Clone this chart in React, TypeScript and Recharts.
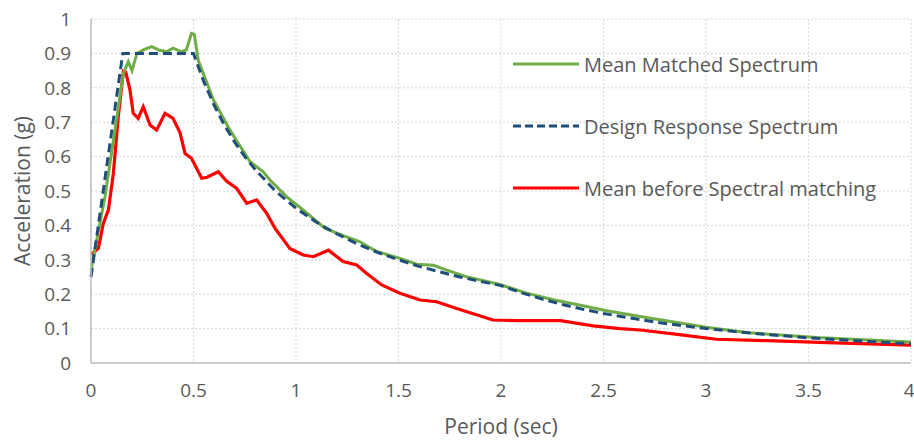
import React from "react";
import { LineChart, Line, XAxis, YAxis, CartesianGrid } from "recharts";

const matchedT = [0, 0.068, 0.117, 0.158, 0.182, 0.2, 0.224, 0.255, 0.296, 0.33, 0.37, 0.4, 0.44, 0.465, 0.49, 0.504, 0.523, 0.597, 0.678, 0.776, 0.84, 0.873, 0.955, 1.02, 1.084, 1.14, 1.23, 1.31, 1.394, 1.507, 1.589, 1.67, 1.735, 1.83, 1.995, 2.125, 2.255, 2.37, 2.515, 2.73, 3.0, 3.21, 3.54, 4.0];
const matchedA = [0.27, 0.483, 0.677, 0.842, 0.876, 0.85, 0.9, 0.91, 0.92, 0.91, 0.905, 0.915, 0.905, 0.91, 0.958, 0.955, 0.88, 0.765, 0.677, 0.585, 0.556, 0.532, 0.483, 0.452, 0.42, 0.392, 0.37, 0.353, 0.324, 0.304, 0.287, 0.284, 0.27, 0.251, 0.228, 0.203, 0.184, 0.17, 0.152, 0.13, 0.104, 0.088, 0.074, 0.061];

const designT = [0, 0.155, 0.5, 0.55, 0.6, 0.65, 0.7, 0.75, 0.8, 0.9, 1.0, 1.1, 1.2, 1.3, 1.4, 1.5, 1.6, 1.7, 1.8, 1.9, 2.0, 2.1, 2.2, 2.3, 2.4, 2.5, 2.75, 3.0, 3.25, 3.5, 3.75, 4.0];
const designA = [0.25, 0.9, 0.9, 0.818, 0.75, 0.692, 0.643, 0.6, 0.563, 0.5, 0.45, 0.409, 0.375, 0.346, 0.321, 0.3, 0.281, 0.265, 0.25, 0.237, 0.225, 0.204, 0.186, 0.17, 0.156, 0.144, 0.119, 0.1, 0.085, 0.073, 0.064, 0.056];

const beforeT = [0, 0.036, 0.06, 0.085, 0.109, 0.133, 0.158, 0.17, 0.19, 0.206, 0.23, 0.255, 0.288, 0.32, 0.361, 0.4, 0.434, 0.459, 0.49, 0.54, 0.566, 0.621, 0.662, 0.71, 0.76, 0.808, 0.857, 0.898, 0.97, 1.035, 1.085, 1.158, 1.23, 1.296, 1.345, 1.418, 1.507, 1.605, 1.686, 1.78, 1.88, 1.96, 2.076, 2.29, 2.45, 2.58, 2.68, 2.89, 3.05, 3.3, 3.59, 4.0];
const beforeA = [0.315, 0.333, 0.406, 0.445, 0.551, 0.716, 0.848, 0.845, 0.794, 0.726, 0.711, 0.745, 0.692, 0.677, 0.726, 0.711, 0.67, 0.609, 0.595, 0.537, 0.54, 0.556, 0.528, 0.508, 0.464, 0.474, 0.435, 0.391, 0.333, 0.314, 0.309, 0.328, 0.295, 0.285, 0.26, 0.227, 0.203, 0.183, 0.178, 0.159, 0.14, 0.125, 0.123, 0.123, 0.108, 0.1, 0.096, 0.081, 0.069, 0.065, 0.059, 0.052];

const xTicks = [0, 0.5, 1, 1.5, 2, 2.5, 3, 3.5, 4];
const yTicks = [0, 0.1, 0.2, 0.3, 0.4, 0.5, 0.6, 0.7, 0.8, 0.9, 1];

const seriesNames = ["Mean Matched Spectrum", "Design Response Spectrum", "Mean before Spectral matching"];

const toPoints = (t: number[], a: number[]) => t.map((v, i) => ({ t: v, a: a[i] }));
const matchedData = toPoints(matchedT, matchedA);
const designData = toPoints(designT, designA);
const beforeData = toPoints(beforeT, beforeA);

const GREEN = "#70ad47";
const BLUE = "#1f4e79";
const RED = "#ff0000";
const TEXT = "#595959";

const legendItems = [
  { name: seriesNames[0], color: GREEN, dash: undefined as string | undefined },
  { name: seriesNames[1], color: BLUE, dash: "8 4" },
  { name: seriesNames[2], color: RED, dash: undefined as string | undefined },
];

export default function App() {
  return (
    <div style={{ position: "absolute", left: 0, top: 0, width: 914, height: 440, background: "#fff", fontFamily: "'Open Sans', sans-serif" }}>
      <LineChart width={914} height={440} margin={{ top: 19, right: 3, bottom: 0, left: 0 }}>
        <CartesianGrid stroke="#d6d6d6" strokeDasharray="2 2" />
        <XAxis
          type="number"
          dataKey="t"
          domain={[0, 4]}
          ticks={xTicks}
          height={77}
          tickSize={0}
          tickMargin={21}
          axisLine={{ stroke: "#bfbfbf", strokeWidth: 1.5 }}
          tick={{ fill: TEXT, fontSize: 19 }}
          label={{ value: "Period (sec)", position: "insideBottom", offset: 6, fill: TEXT, fontSize: 21 }}
          allowDuplicatedCategory={false}
        />
        <YAxis
          type="number"
          dataKey="a"
          domain={[0, 1]}
          ticks={yTicks}
          width={91}
          tickSize={0}
          tickMargin={20}
          axisLine={{ stroke: "#bfbfbf", strokeWidth: 1.5 }}
          tick={{ fill: TEXT, fontSize: 19 }}
          label={{ value: "Acceleration (g)", angle: -90, position: "insideLeft", offset: 23, fill: TEXT, fontSize: 21, style: { textAnchor: "middle" } }}
        />
        <Line data={beforeData} dataKey="a" name={seriesNames[2]} type="linear" stroke={RED} strokeWidth={3.2} dot={false} isAnimationActive={false} />
        <Line data={matchedData} dataKey="a" name={seriesNames[0]} type="linear" stroke={GREEN} strokeWidth={3} dot={false} isAnimationActive={false} />
        <Line data={designData} dataKey="a" name={seriesNames[1]} type="linear" stroke={BLUE} strokeWidth={3} strokeDasharray="9 5" dot={false} isAnimationActive={false} />
      </LineChart>
      <div style={{ position: "absolute", left: 513, top: 33, display: "flex", flexDirection: "column" }}>
        {legendItems.map((it) => (
          <div key={it.name} style={{ display: "flex", alignItems: "center", height: 62 }}>
            <svg width={66} height={6} style={{ marginRight: 5 }}>
              <line x1={0} y1={3} x2={66} y2={3} stroke={it.color} strokeWidth={3} strokeDasharray={it.dash} />
            </svg>
            <span style={{ color: TEXT, fontSize: 20, whiteSpace: "nowrap" }}>{it.name}</span>
          </div>
        ))}
      </div>
    </div>
  );
}
